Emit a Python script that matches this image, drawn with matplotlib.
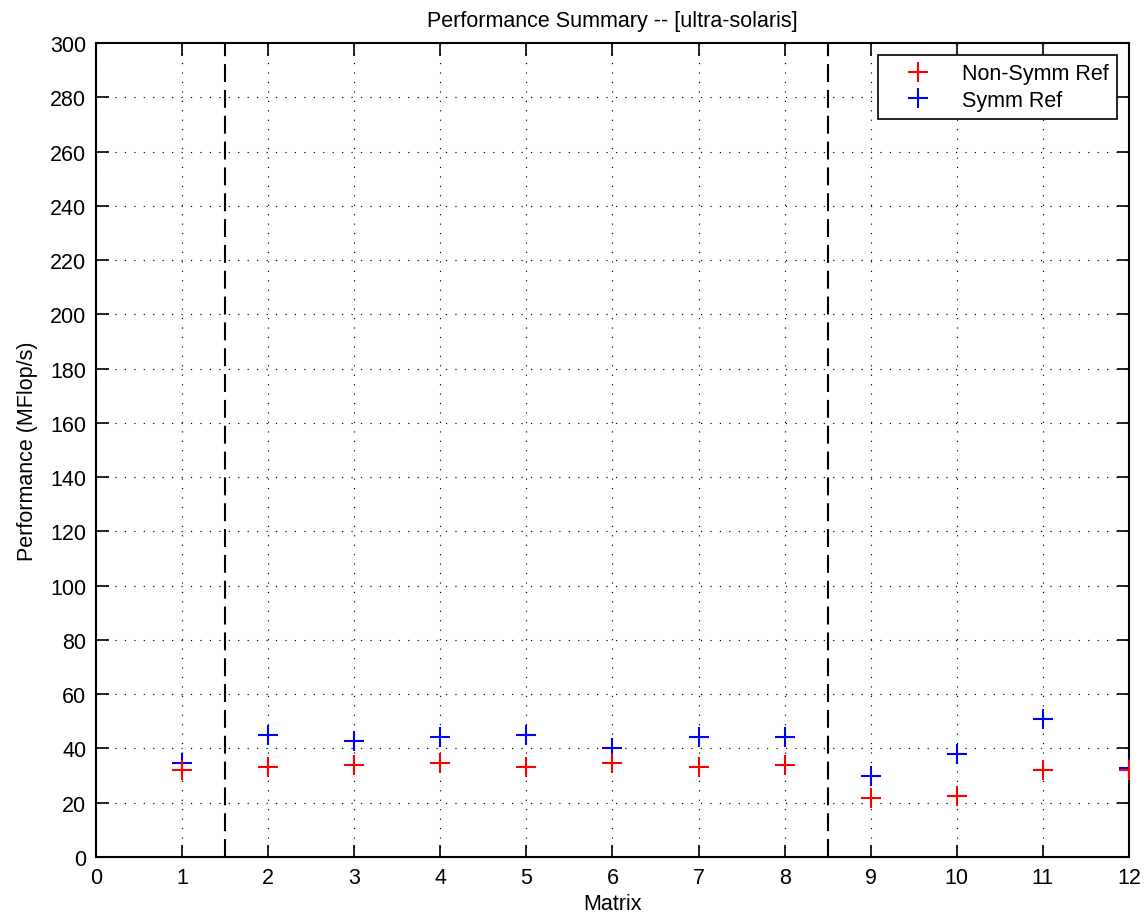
import matplotlib
matplotlib.use("Agg")
import matplotlib.pyplot as plt

plt.rcParams['font.family'] = ['Liberation Sans', 'DejaVu Sans']

matrices = [1, 2, 3, 4, 5, 6, 7, 8, 9, 10, 11, 12]
nonsymm = [31.9, 33.2, 34.0, 34.6, 33.2, 34.6, 33.2, 34.0, 21.7, 22.4, 31.9, 32.1]
symm = [34.6, 44.8, 42.8, 44.2, 44.9, 40.0, 44.2, 44.2, 29.8, 38.0, 51.0, 32.9]
separators = [1.5, 8.5]
xticks = list(range(0, 13))
yticks = list(range(0, 301, 20))

fig = plt.figure(figsize=(11.44, 9.2), dpi=100)
ax = fig.add_axes([0.0839, 0.0674, 0.9030, 0.8848])

ax.plot(matrices, symm, linestyle='none', marker='+', color='#0000ff',
        markersize=14, markeredgewidth=1.5, label='Symm Ref', zorder=3)
ax.plot(matrices, nonsymm, linestyle='none', marker='+', color='#ff0000',
        markersize=14, markeredgewidth=1.5, label='Non-Symm Ref', zorder=4)

for s in separators:
    ax.plot([s, s], [0, 300], color='black', linewidth=1.5,
            linestyle=(0, (8.6, 3.8)), zorder=2)

ax.set_xlim(0, 12)
ax.set_ylim(0, 300)
ax.set_xticks(xticks)
ax.set_yticks(yticks)
ax.grid(True, color='black', linestyle=(0, (1, 7)), linewidth=0.85)

ax.tick_params(direction='in', length=9, width=1.2, top=True, right=True,
               labelsize=15.5, pad=7)
for sp in ax.spines.values():
    sp.set_linewidth(1.5)

ax.set_title('Performance Summary -- [ultra-solaris]', fontsize=15.5, pad=12)
ax.set_xlabel('Matrix', fontsize=15.5, labelpad=4)
ax.set_ylabel('Performance (MFlop/s)', fontsize=15.5, labelpad=9)

handles, labels = ax.get_legend_handles_labels()
order = [1, 0]
leg = ax.legend([handles[i] for i in order], [labels[i] for i in order],
                loc='upper right', numpoints=1, fontsize=15.5, fancybox=False,
                edgecolor='black', framealpha=1, borderaxespad=0.55,
                handlelength=2.9, handletextpad=0.6, borderpad=0.4,
                labelspacing=0.25)
leg.get_frame().set_linewidth(1.2)

fig.savefig('out.png', dpi=100)
